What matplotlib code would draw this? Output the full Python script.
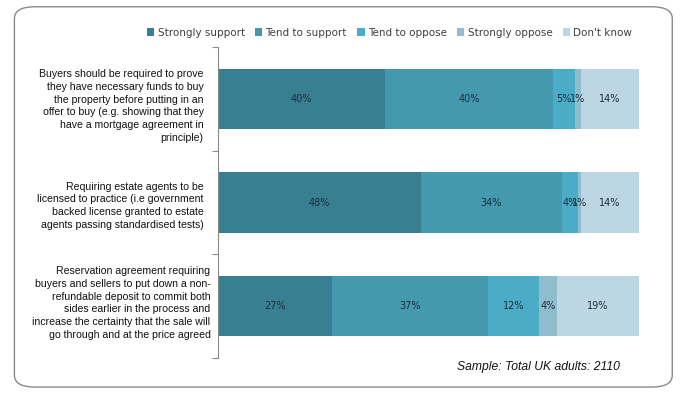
import matplotlib.pyplot as plt
from matplotlib.patches import FancyBboxPatch
import numpy as np

# survey statements (top to bottom)
statements = [
    "Buyers should be required to prove\nthey have necessary funds to buy\nthe property before putting in an\noffer to buy (e.g. showing that they\nhave a mortgage agreement in\nprinciple)",
    "Requiring estate agents to be\nlicensed to practice (i.e government\nbacked license granted to estate\nagents passing standardised tests)",
    "Reservation agreement requiring\nbuyers and sellers to put down a non-\nrefundable deposit to commit both\nsides earlier in the process and\nincrease the certainty that the sale will\ngo through and at the price agreed",
]
responses = ["Strongly support", "Tend to support", "Tend to oppose", "Strongly oppose", "Don't know"]
colors = ["#387f91", "#4499af", "#4aacc6", "#90bdcd", "#bcd7e3"]

# share of respondents (%)
strongly_support = [39.7, 48.2, 27.1]
tend_support = [39.9, 33.5, 37.0]
tend_oppose = [5.2, 3.8, 12.1]
strongly_oppose = [1.4, 0.7, 4.3]
dont_know = [13.8, 13.8, 19.5]
labels = [
    ["40%", "40%", "5%", "1%", "14%"],
    ["48%", "34%", "4%", "1%", "14%"],
    ["27%", "37%", "12%", "4%", "19%"],
]

series = [strongly_support, tend_support, tend_oppose, strongly_oppose, dont_know]

fig = plt.figure(figsize=(6.86, 3.97), dpi=100)
ax = fig.add_axes([0.3178, 0.0982, 0.6137, 0.7834])

y = np.arange(len(statements))
left = np.zeros(len(statements))
for i, (vals, name, col) in enumerate(zip(series, responses, colors)):
    ax.barh(y, vals, left=left, height=0.58, color=col, label=name)
    for j, v in enumerate(vals):
        ax.text(left[j] + v / 2, y[j], labels[j][i], ha="center", va="center",
                fontsize=7, color="#1f2d3a")
    left += np.array(vals)

ax.set_xlim(0, 100)
ax.set_ylim(2.5, -0.5)
ax.set_xticks([])
ax.set_yticks([])
ax.set_yticks([-0.5, 0.5, 1.5, 2.5], minor=True)
ax.tick_params(axis="y", which="minor", length=4, color="#888888", width=0.8)
for s in ["top", "right", "bottom"]:
    ax.spines[s].set_visible(False)
ax.spines["left"].set_color("#888888")
ax.spines["left"].set_linewidth(0.8)

# label boxes sit a little off the bar centres, as in the original
label_gap = [-3.4, -3.4, -1.8]
label_shift = [0.07, 0.03, -0.03]
for j, txt in enumerate(statements):
    ax.text(label_gap[j], y[j] + label_shift[j], txt, ha="right", va="center",
            fontsize=7.6, family="Liberation Sans", color="#111111", linespacing=1.33)

fig.legend(loc="center right", bbox_to_anchor=(0.935, 0.918), ncol=5,
           frameon=False, fontsize=7.5, handlelength=0.7, handleheight=0.7,
           handletextpad=0.3, columnspacing=1.0, labelcolor="#404040")

fig.text(0.785, 0.075, "Sample: Total UK adults: 2110", ha="center", va="center",
         fontsize=8.7, style="italic", family="Liberation Sans", color="#111111")

border = FancyBboxPatch((0.021, 0.025), 0.959, 0.958, transform=fig.transFigure,
                        boxstyle="round,pad=0,rounding_size=0.03",
                        facecolor="none", edgecolor="#8a8a8a", linewidth=1)
fig.patches.append(border)

plt.savefig("out.png", dpi=100)
